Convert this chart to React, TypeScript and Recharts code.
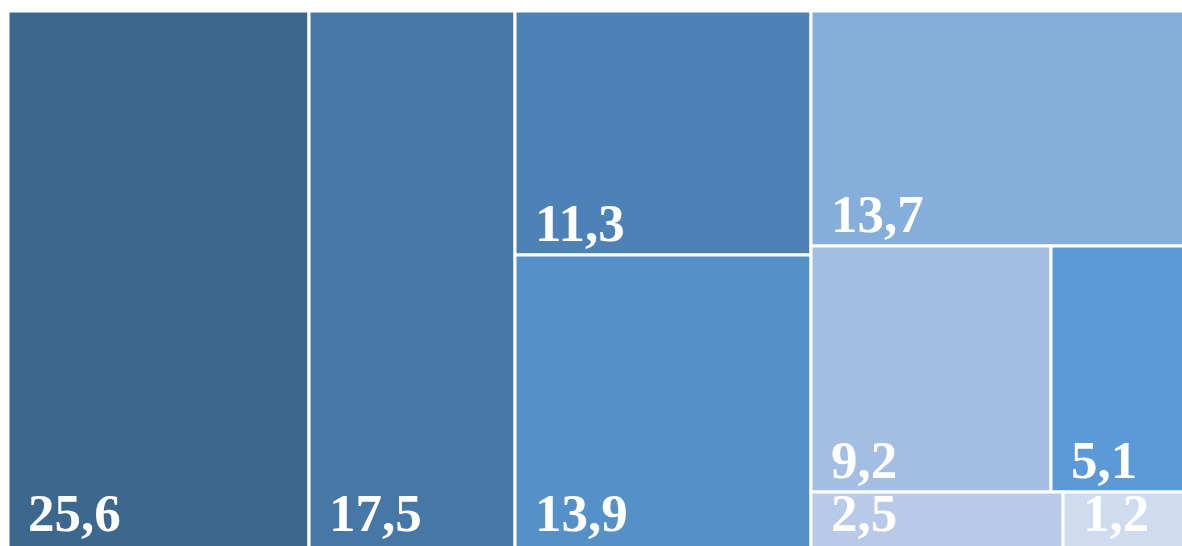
import { Treemap } from "recharts";

// shares shown in the cells (percent), in layout order
const SHARES = [25.6, 17.5, 11.3, 13.9, 13.7, 9.2, 5.1, 2.5, 1.2];
const CELL_COLORS = [
  "#3c6890",
  "#4677a7",
  "#4e82b7",
  "#5590c6",
  "#85aedb",
  "#a3bde3",
  "#5b9ad6",
  "#b7cbe8",
  "#cfdcef",
];

const CHART_H = 545;
// the chart runs past the bottom of the frame, keep the labels inside it
const LABEL_MAX_Y = 520;

const fmt = (v: number) => v.toFixed(1).replace(".", ",");

const leaf = (i: number) => ({ name: fmt(SHARES[i]), size: SHARES[i], cell: i });

// nesting only fixes how the blocks are grouped, sizes come from SHARES
const treeData = [
  leaf(0),
  leaf(1),
  { name: "g1", children: [leaf(2), leaf(3)] },
  {
    name: "g2",
    children: [
      { name: "g2a", children: [leaf(4), { name: "g2b", children: [leaf(5), leaf(6)] }] },
      { name: "g2c", children: [leaf(7), leaf(8)] },
    ],
  },
];

function Cell(props: any) {
  const { x, y, width, height, cell, name } = props;
  if (cell === undefined) return <g />;
  return (
    <g>
      <rect
        x={x}
        y={y}
        width={width}
        height={height}
        fill={CELL_COLORS[cell]}
        stroke="#ffffff"
        strokeWidth={3}
      />
      <text
        x={x + 20}
        y={Math.min(y + height - 14, LABEL_MAX_Y)}
        fill="#ffffff"
        stroke="none"
        fontFamily="'Liberation Serif', 'Times New Roman', serif"
        fontWeight="bold"
        fontSize={53}
      >
        {name}
      </text>
    </g>
  );
}

export default function App() {
  return (
    <div
      style={{
        position: "fixed",
        left: 0,
        top: 0,
        width: 1182,
        height: 546,
        overflow: "hidden",
        background: "#ffffff",
      }}
    >
      <div style={{ position: "absolute", left: 8, top: 10.5 }}>
        <Treemap
          width={1176}
          height={CHART_H}
          data={treeData}
          dataKey="size"
          aspectRatio={0.1}
          isAnimationActive={false}
          content={<Cell />}
        />
      </div>
    </div>
  );
}
